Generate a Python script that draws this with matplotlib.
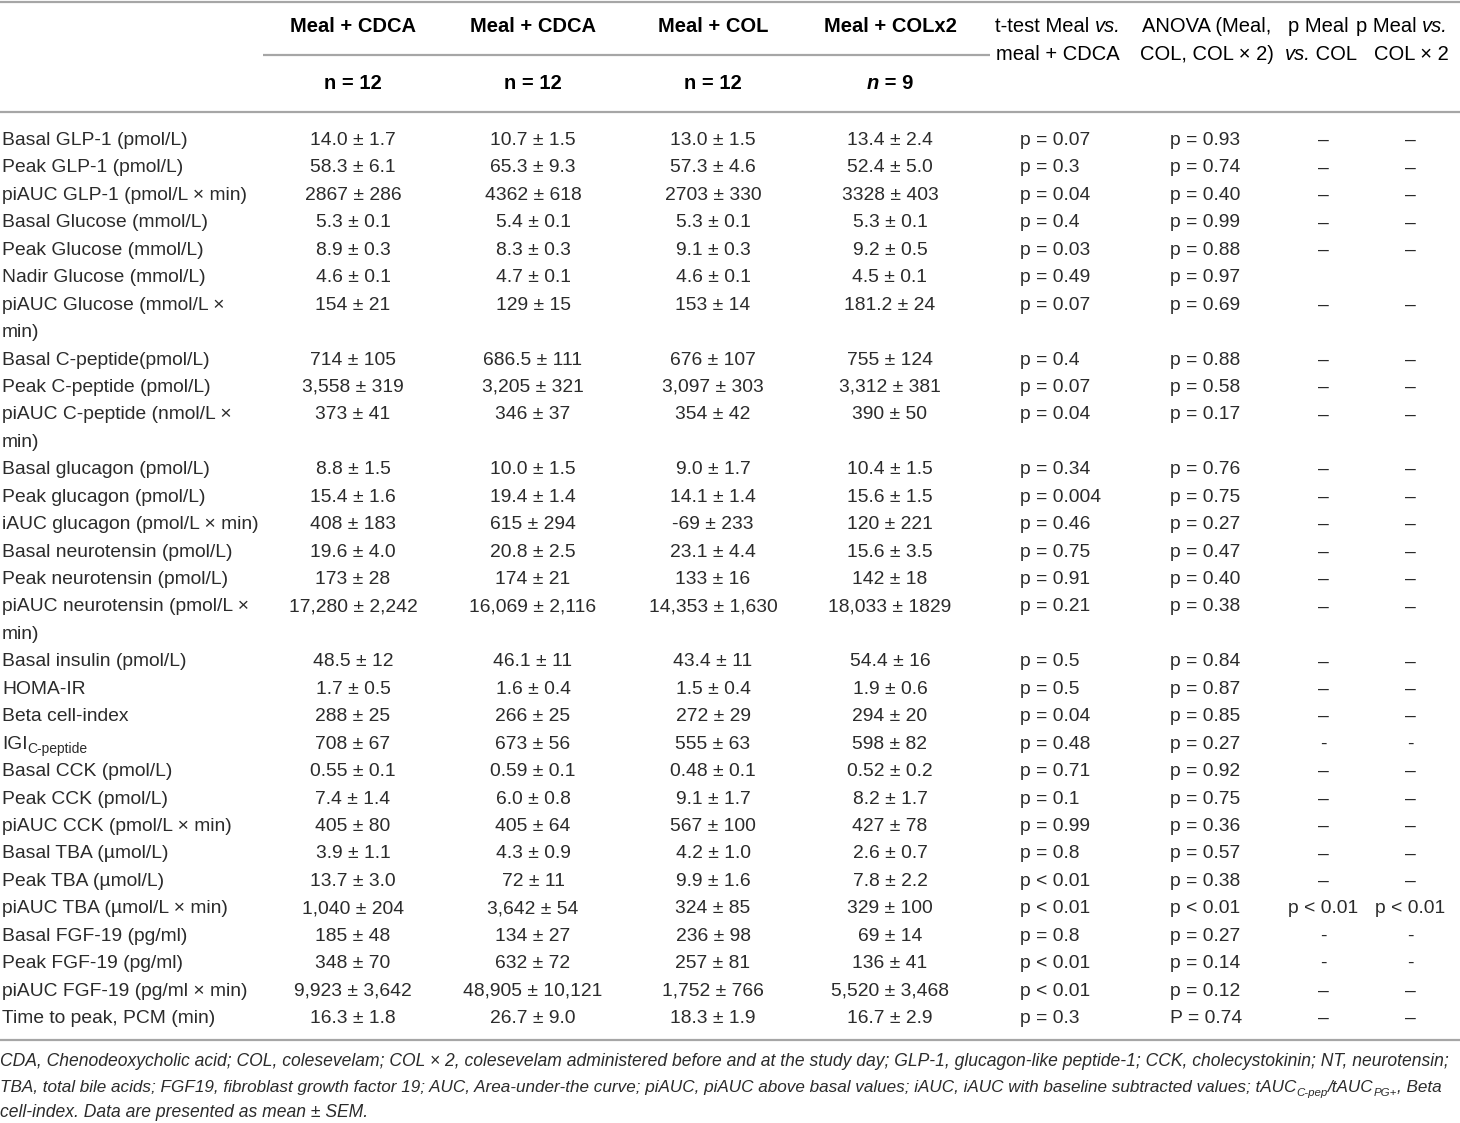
import matplotlib
matplotlib.use('Agg')
import matplotlib.pyplot as plt

# table values
labels = [
    'Basal GLP-1 (pmol/L)', 'Peak GLP-1 (pmol/L)', 'piAUC GLP-1 (pmol/L × min)',
    'Basal Glucose (mmol/L)', 'Peak Glucose (mmol/L)', 'Nadir Glucose (mmol/L)',
    'piAUC Glucose (mmol/L ×\nmin)', 'Basal C-peptide(pmol/L)', 'Peak C-peptide (pmol/L)',
    'piAUC C-peptide (nmol/L ×\nmin)', 'Basal glucagon (pmol/L)', 'Peak glucagon (pmol/L)',
    'iAUC glucagon (pmol/L × min)', 'Basal neurotensin (pmol/L)', 'Peak neurotensin (pmol/L)',
    'piAUC neurotensin (pmol/L ×\nmin)', 'Basal insulin (pmol/L)', 'HOMA-IR', 'Beta cell-index',
    'IGI|C-peptide', 'Basal CCK (pmol/L)', 'Peak CCK (pmol/L)', 'piAUC CCK (pmol/L × min)',
    'Basal TBA (µmol/L)', 'Peak TBA (µmol/L)', 'piAUC TBA (µmol/L × min)',
    'Basal FGF-19 (pg/ml)', 'Peak FGF-19 (pg/ml)', 'piAUC FGF-19 (pg/ml × min)',
    'Time to peak, PCM (min)',
]
meal_cdca = ['14.0 ± 1.7', '58.3 ± 6.1', '2867 ± 286', '5.3 ± 0.1', '8.9 ± 0.3', '4.6 ± 0.1',
             '154 ± 21', '714 ± 105', '3,558 ± 319', '373 ± 41', '8.8 ± 1.5', '15.4 ± 1.6',
             '408 ± 183', '19.6 ± 4.0', '173 ± 28', '17,280 ± 2,242', '48.5 ± 12', '1.7 ± 0.5',
             '288 ± 25', '708 ± 67', '0.55 ± 0.1', '7.4 ± 1.4', '405 ± 80', '3.9 ± 1.1',
             '13.7 ± 3.0', '1,040 ± 204', '185 ± 48', '348 ± 70', '9,923 ± 3,642', '16.3 ± 1.8']
meal_cdca_b = ['10.7 ± 1.5', '65.3 ± 9.3', '4362 ± 618', '5.4 ± 0.1', '8.3 ± 0.3', '4.7 ± 0.1',
               '129 ± 15', '686.5 ± 111', '3,205 ± 321', '346 ± 37', '10.0 ± 1.5', '19.4 ± 1.4',
               '615 ± 294', '20.8 ± 2.5', '174 ± 21', '16,069 ± 2,116', '46.1 ± 11', '1.6 ± 0.4',
               '266 ± 25', '673 ± 56', '0.59 ± 0.1', '6.0 ± 0.8', '405 ± 64', '4.3 ± 0.9',
               '72 ± 11', '3,642 ± 54', '134 ± 27', '632 ± 72', '48,905 ± 10,121', '26.7 ± 9.0']
meal_col = ['13.0 ± 1.5', '57.3 ± 4.6', '2703 ± 330', '5.3 ± 0.1', '9.1 ± 0.3', '4.6 ± 0.1',
            '153 ± 14', '676 ± 107', '3,097 ± 303', '354 ± 42', '9.0 ± 1.7', '14.1 ± 1.4',
            '-69 ± 233', '23.1 ± 4.4', '133 ± 16', '14,353 ± 1,630', '43.4 ± 11', '1.5 ± 0.4',
            '272 ± 29', '555 ± 63', '0.48 ± 0.1', '9.1 ± 1.7', '567 ± 100', '4.2 ± 1.0',
            '9.9 ± 1.6', '324 ± 85', '236 ± 98', '257 ± 81', '1,752 ± 766', '18.3 ± 1.9']
meal_colx2 = ['13.4 ± 2.4', '52.4 ± 5.0', '3328 ± 403', '5.3 ± 0.1', '9.2 ± 0.5', '4.5 ± 0.1',
              '181.2 ± 24', '755 ± 124', '3,312 ± 381', '390 ± 50', '10.4 ± 1.5', '15.6 ± 1.5',
              '120 ± 221', '15.6 ± 3.5', '142 ± 18', '18,033 ± 1829', '54.4 ± 16', '1.9 ± 0.6',
              '294 ± 20', '598 ± 82', '0.52 ± 0.2', '8.2 ± 1.7', '427 ± 78', '2.6 ± 0.7',
              '7.8 ± 2.2', '329 ± 100', '69 ± 14', '136 ± 41', '5,520 ± 3,468', '16.7 ± 2.9']
ttest = ['p = 0.07', 'p = 0.3', 'p = 0.04', 'p = 0.4', 'p = 0.03', 'p = 0.49', 'p = 0.07',
         'p = 0.4', 'p = 0.07', 'p = 0.04', 'p = 0.34', 'p = 0.004', 'p = 0.46', 'p = 0.75',
         'p = 0.91', 'p = 0.21', 'p = 0.5', 'p = 0.5', 'p = 0.04', 'p = 0.48', 'p = 0.71',
         'p = 0.1', 'p = 0.99', 'p = 0.8', 'p < 0.01', 'p < 0.01', 'p = 0.8', 'p < 0.01',
         'p < 0.01', 'p = 0.3']
anova = ['p = 0.93', 'p = 0.74', 'p = 0.40', 'p = 0.99', 'p = 0.88', 'p = 0.97', 'p = 0.69',
         'p = 0.88', 'p = 0.58', 'p = 0.17', 'p = 0.76', 'p = 0.75', 'p = 0.27', 'p = 0.47',
         'p = 0.40', 'p = 0.38', 'p = 0.84', 'p = 0.87', 'p = 0.85', 'p = 0.27', 'p = 0.92',
         'p = 0.75', 'p = 0.36', 'p = 0.57', 'p = 0.38', 'p < 0.01', 'p = 0.27', 'p = 0.14',
         'p = 0.12', 'P = 0.74']
p_col = ['–'] * 5 + [''] + ['–'] * 13 + ['-'] + ['–'] * 5 + ['p < 0.01', '-', '-', '–', '–']
p_colx2 = list(p_col)

BODY = ['Liberation Sans', 'DejaVu Sans']
HEAD = ['Liberation Sans Narrow', 'Liberation Sans', 'DejaVu Sans']
TXT = '#2b2b2b'
RULE = '#a6a6a6'

fig = plt.figure(figsize=(14.6, 11.23), dpi=100)
ax = fig.add_axes([0, 0, 1, 1])
ax.set_xlim(0, 1460)
ax.set_ylim(1123, 0)
ax.axis('off')
rend = fig.canvas.get_renderer()


def segs(x, y, parts, ha='left', maxw=None):
    # parts: (text, dict of text kwargs, dy)
    objs = []
    for s, kw, dy in parts:
        objs.append(ax.text(0, y + dy, s, va='baseline', ha='left', **kw))
    widths = [t.get_window_extent(rend).width for t in objs]
    if maxw and sum(widths) > maxw:
        f = maxw / sum(widths)
        for t in objs:
            t.set_fontsize(t.get_fontsize() * f)
        widths = [t.get_window_extent(rend).width for t in objs]
    cx = x - sum(widths) / 2 if ha == 'center' else x
    for t, w in zip(objs, widths):
        t.set_x(cx)
        cx += w


hb = dict(family=HEAD, fontsize=14.5, weight='bold', color='black')
hbi = dict(hb, style='italic')

# header
col_x = [353, 533, 713, 890]
for cx, name in zip(col_x, ['Meal + CDCA', 'Meal + CDCA', 'Meal + COL', 'Meal + COLx2']):
    ax.text(cx, 32, name, ha='center', va='baseline', **hb)
for cx in col_x[:3]:
    ax.text(cx, 89, 'n = 12', ha='center', va='baseline', **hb)
segs(col_x[3], 89, [('n', hbi, 0), (' = 9', hb, 0)], ha='center')

hr = dict(family=HEAD, fontsize=14.5, color='black')
hri = dict(hr, style='italic')
segs(1058, 32, [('t-test Meal ', hr, 0), ('vs.', hri, 0)], ha='center')
segs(1058, 60, [('meal + CDCA', hr, 0)], ha='center')
segs(1207, 32, [('ANOVA (Meal,', hr, 0)], ha='center')
segs(1207, 60, [('COL, COL × 2)', hr, 0)], ha='center')
segs(1318, 32, [('p Meal', hr, 0)], ha='center')
segs(1321, 60, [('vs.', hri, 0), (' COL', hr, 0)], ha='center')
segs(1402, 32, [('p Meal ', hr, 0), ('vs.', hri, 0)], ha='center')
segs(1411, 60, [('COL × 2', hr, 0)], ha='center')

# rules
for x0, x1, yy in [(0, 1460, 1.5), (263, 990, 55), (0, 1460, 112), (0, 1460, 1040)]:
    ax.plot([x0, x1], [yy, yy], color=RULE, lw=1.6, solid_capstyle='butt')

# body
bt = dict(family=BODY, fontsize=13.9, color=TXT)
bsub = dict(bt, fontsize=10)
step = 27.44
line = 0
for i, lab in enumerate(labels):
    y = 145 + step * line
    if '|' in lab:
        a, b = lab.split('|')
        segs(2, y, [(a, bt, 0), (b, bsub, 4)])
    else:
        for k, part in enumerate(lab.split('\n')):
            ax.text(2, y + step * k, part, ha='left', va='baseline', **bt)
    for cx, col in zip(col_x, [meal_cdca, meal_cdca_b, meal_col, meal_colx2]):
        ax.text(cx, y, col[i], ha='center', va='baseline', **bt)
    ax.text(1020, y, ttest[i], ha='left', va='baseline', **bt)
    ax.text(1170, y, anova[i], ha='left', va='baseline', **bt)
    ax.text(1323, y, p_col[i], ha='center', va='baseline', **bt)
    ax.text(1410, y, p_colx2[i], ha='center', va='baseline', **bt)
    line += lab.count('\n') + 1

# footnote
ft = dict(family=HEAD, fontsize=12.65, style='italic', color=TXT)
fs = dict(ft, fontsize=8.5)
segs(0, 1066, [('CDA, Chenodeoxycholic acid; COL, colesevelam; COL × 2, colesevelam administered '
                'before and at the study day; GLP-1, glucagon-like peptide-1; CCK, cholecystokinin; '
                'NT, neurotensin;', ft, 0)], maxw=1454)
segs(0, 1092, [('TBA, total bile acids; FGF19, fibroblast growth factor 19; AUC, Area-under-the curve; '
                'piAUC, piAUC above basal values; iAUC, iAUC with baseline subtracted values; tAUC', ft, 0),
               ('C-pep', fs, 4), ('/tAUC', ft, 0), ('PG+', fs, 4), (', Beta', ft, 0)], maxw=1436)
ax.text(0, 1117, 'cell-index. Data are presented as mean ± SEM.', ha='left', va='baseline', **ft)

fig.savefig('out.png', dpi=100, facecolor='white')
